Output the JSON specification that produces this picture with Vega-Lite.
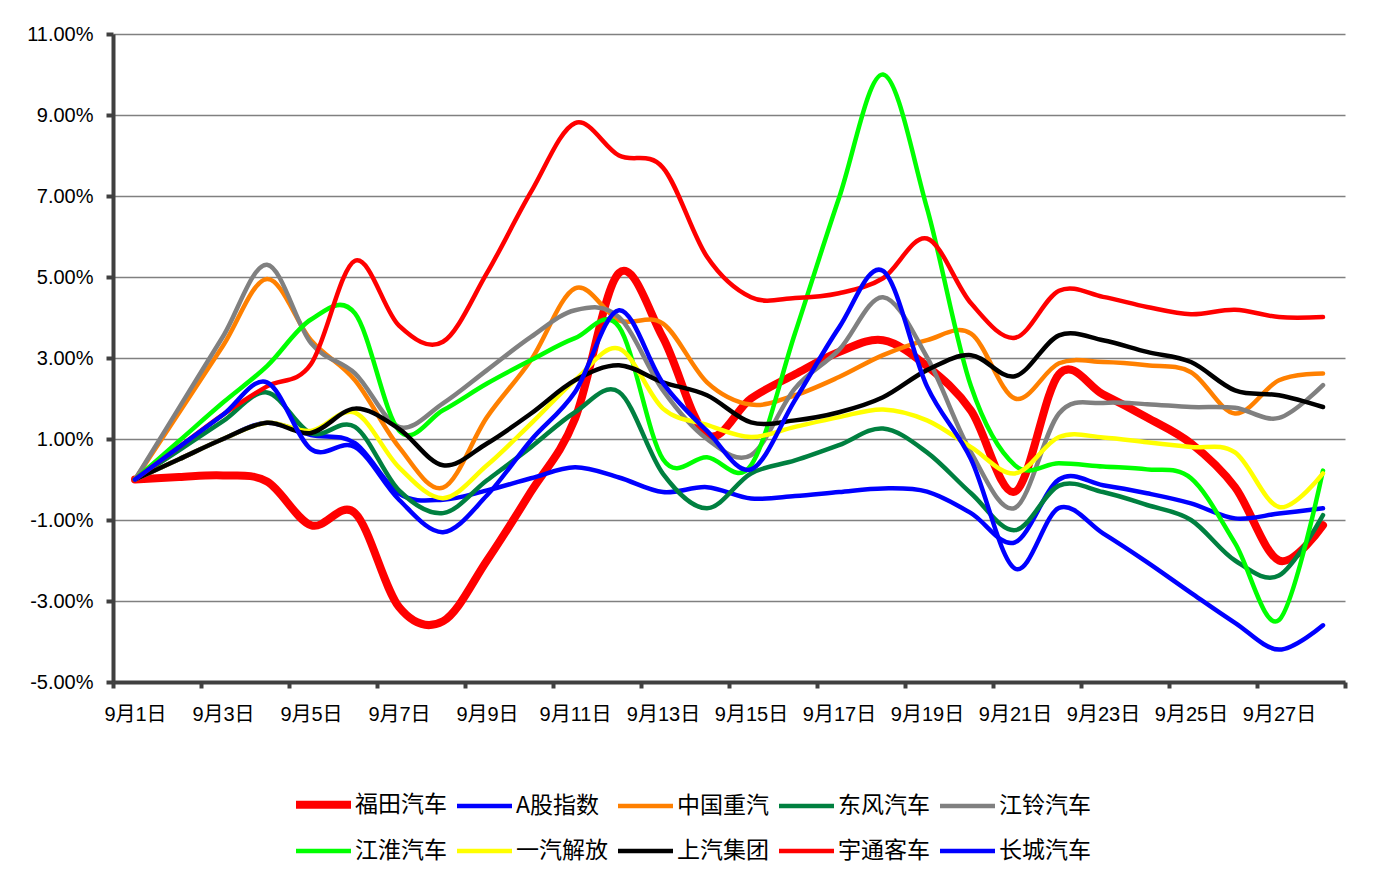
{
  "$schema": "https://vega.github.io/schema/vega-lite/v6.json",
  "width": 1232,
  "height": 648,
  "autosize": {"type": "none"},
  "padding": {"left": 113, "top": 34, "right": 35, "bottom": 197},
  "background": "white",
  "config": {
    "view": {"stroke": null},
    "legend": {
      "orient": "none", "legendX": 179, "legendY": 739, "direction": "horizontal",
      "columns": 5, "symbolType": "stroke", "symbolSize": 3025, "symbolStrokeWidth": 5,
      "labelFontSize": 23, "labelFont": "Noto Sans CJK SC", "labelColor": "#000000",
      "labelOffset": 0, "columnPadding": 1, "rowPadding": -15, "gridAlign": "all",
      "padding": 0, "title": null, "labelLimit": 200
    }
  },
  "data": {"values": [
{"d":"9月1日","s":"福田汽车","v":0},{"d":"9月2日","s":"福田汽车","v":0.06},{"d":"9月3日","s":"福田汽车","v":0.1},{"d":"9月4日","s":"福田汽车","v":-0.05},{"d":"9月5日","s":"福田汽车","v":-1.13},{"d":"9月6日","s":"福田汽车","v":-0.83},{"d":"9月7日","s":"福田汽车","v":-3.15},{"d":"9月8日","s":"福田汽车","v":-3.5},{"d":"9月9日","s":"福田汽车","v":-2.0},{"d":"9月10日","s":"福田汽车","v":-0.3},{"d":"9月11日","s":"福田汽车","v":1.5},{"d":"9月12日","s":"福田汽车","v":5.1},{"d":"9月13日","s":"福田汽车","v":3.5},{"d":"9月14日","s":"福田汽车","v":1.1},{"d":"9月15日","s":"福田汽车","v":2.0},{"d":"9月16日","s":"福田汽车","v":2.6},{"d":"9月17日","s":"福田汽车","v":3.15},{"d":"9月18日","s":"福田汽车","v":3.44},{"d":"9月19日","s":"福田汽车","v":2.8},{"d":"9月20日","s":"福田汽车","v":1.7},{"d":"9月21日","s":"福田汽车","v":-0.3},{"d":"9月22日","s":"福田汽车","v":2.6},{"d":"9月23日","s":"福田汽车","v":2.1},{"d":"9月24日","s":"福田汽车","v":1.53},{"d":"9月25日","s":"福田汽车","v":0.89},{"d":"9月26日","s":"福田汽车","v":-0.19},{"d":"9月27日","s":"福田汽车","v":-2.0},{"d":"9月28日","s":"福田汽车","v":-1.13},
{"d":"9月1日","s":"A股指数","v":0},{"d":"9月2日","s":"A股指数","v":0.5},{"d":"9月3日","s":"A股指数","v":1.0},{"d":"9月4日","s":"A股指数","v":1.4},{"d":"9月5日","s":"A股指数","v":1.1},{"d":"9月6日","s":"A股指数","v":0.9},{"d":"9月7日","s":"A股指数","v":-0.35},{"d":"9月8日","s":"A股指数","v":-0.5},{"d":"9月9日","s":"A股指数","v":-0.27},{"d":"9月10日","s":"A股指数","v":0.03},{"d":"9月11日","s":"A股指数","v":0.3},{"d":"9月12日","s":"A股指数","v":0.05},{"d":"9月13日","s":"A股指数","v":-0.31},{"d":"9月14日","s":"A股指数","v":-0.19},{"d":"9月15日","s":"A股指数","v":-0.47},{"d":"9月16日","s":"A股指数","v":-0.41},{"d":"9月17日","s":"A股指数","v":-0.31},{"d":"9月18日","s":"A股指数","v":-0.22},{"d":"9月19日","s":"A股指数","v":-0.3},{"d":"9月20日","s":"A股指数","v":-0.83},{"d":"9月21日","s":"A股指数","v":-1.55},{"d":"9月22日","s":"A股指数","v":0.0},{"d":"9月23日","s":"A股指数","v":-0.14},{"d":"9月24日","s":"A股指数","v":-0.34},{"d":"9月25日","s":"A股指数","v":-0.59},{"d":"9月26日","s":"A股指数","v":-0.96},{"d":"9月27日","s":"A股指数","v":-0.84},{"d":"9月28日","s":"A股指数","v":-0.71},
{"d":"9月1日","s":"中国重汽","v":0},{"d":"9月2日","s":"中国重汽","v":1.65},{"d":"9月3日","s":"中国重汽","v":3.3},{"d":"9月4日","s":"中国重汽","v":4.95},{"d":"9月5日","s":"中国重汽","v":3.44},{"d":"9月6日","s":"中国重汽","v":2.45},{"d":"9月7日","s":"中国重汽","v":0.8},{"d":"9月8日","s":"中国重汽","v":-0.2},{"d":"9月9日","s":"中国重汽","v":1.54},{"d":"9月10日","s":"中国重汽","v":2.95},{"d":"9月11日","s":"中国重汽","v":4.72},{"d":"9月12日","s":"中国重汽","v":3.93},{"d":"9月13日","s":"中国重汽","v":3.85},{"d":"9月14日","s":"中国重汽","v":2.4},{"d":"9月15日","s":"中国重汽","v":1.85},{"d":"9月16日","s":"中国重汽","v":2.08},{"d":"9月17日","s":"中国重汽","v":2.53},{"d":"9月18日","s":"中国重汽","v":3.07},{"d":"9月19日","s":"中国重汽","v":3.44},{"d":"9月20日","s":"中国重汽","v":3.6},{"d":"9月21日","s":"中国重汽","v":2.0},{"d":"9月22日","s":"中国重汽","v":2.87},{"d":"9月23日","s":"中国重汽","v":2.9},{"d":"9月24日","s":"中国重汽","v":2.82},{"d":"9月25日","s":"中国重汽","v":2.65},{"d":"9月26日","s":"中国重汽","v":1.63},{"d":"9月27日","s":"中国重汽","v":2.45},{"d":"9月28日","s":"中国重汽","v":2.62},
{"d":"9月1日","s":"东风汽车","v":0},{"d":"9月2日","s":"东风汽车","v":0.72},{"d":"9月3日","s":"东风汽车","v":1.44},{"d":"9月4日","s":"东风汽车","v":2.15},{"d":"9月5日","s":"东风汽车","v":1.14},{"d":"9月6日","s":"东风汽车","v":1.3},{"d":"9月7日","s":"东风汽车","v":-0.27},{"d":"9月8日","s":"东风汽车","v":-0.83},{"d":"9月9日","s":"东风汽车","v":-0.02},{"d":"9月10日","s":"东风汽车","v":0.8},{"d":"9月11日","s":"东风汽车","v":1.66},{"d":"9月12日","s":"东风汽车","v":2.16},{"d":"9月13日","s":"东风汽车","v":0.14},{"d":"9月14日","s":"东风汽车","v":-0.71},{"d":"9月15日","s":"东风汽车","v":0.15},{"d":"9月16日","s":"东风汽车","v":0.47},{"d":"9月17日","s":"东风汽车","v":0.85},{"d":"9月18日","s":"东风汽车","v":1.26},{"d":"9月19日","s":"东风汽车","v":0.67},{"d":"9月20日","s":"东风汽车","v":-0.34},{"d":"9月21日","s":"东风汽车","v":-1.25},{"d":"9月22日","s":"东风汽车","v":-0.15},{"d":"9月23日","s":"东风汽车","v":-0.31},{"d":"9月24日","s":"东风汽车","v":-0.63},{"d":"9月25日","s":"东风汽车","v":-1.0},{"d":"9月26日","s":"东风汽车","v":-2.0},{"d":"9月27日","s":"东风汽车","v":-2.37},{"d":"9月28日","s":"东风汽车","v":-0.88},
{"d":"9月1日","s":"江铃汽车","v":0},{"d":"9月2日","s":"江铃汽车","v":1.77},{"d":"9月3日","s":"江铃汽车","v":3.53},{"d":"9月4日","s":"江铃汽车","v":5.3},{"d":"9月5日","s":"江铃汽车","v":3.37},{"d":"9月6日","s":"江铃汽车","v":2.62},{"d":"9月7日","s":"江铃汽车","v":1.3},{"d":"9月8日","s":"江铃汽车","v":1.88},{"d":"9月9日","s":"江铃汽车","v":2.7},{"d":"9月10日","s":"江铃汽车","v":3.52},{"d":"9月11日","s":"江铃汽车","v":4.18},{"d":"9月12日","s":"江铃汽车","v":4.01},{"d":"9月13日","s":"江铃汽车","v":2.2},{"d":"9月14日","s":"江铃汽车","v":1.0},{"d":"9月15日","s":"江铃汽车","v":0.6},{"d":"9月16日","s":"江铃汽车","v":2.25},{"d":"9月17日","s":"江铃汽车","v":3.2},{"d":"9月18日","s":"江铃汽车","v":4.5},{"d":"9月19日","s":"江铃汽车","v":3.02},{"d":"9月20日","s":"江铃汽车","v":0.67},{"d":"9月21日","s":"江铃汽车","v":-0.7},{"d":"9月22日","s":"江铃汽车","v":1.63},{"d":"9月23日","s":"江铃汽车","v":1.89},{"d":"9月24日","s":"江铃汽车","v":1.86},{"d":"9月25日","s":"江铃汽车","v":1.79},{"d":"9月26日","s":"江铃汽车","v":1.77},{"d":"9月27日","s":"江铃汽车","v":1.52},{"d":"9月28日","s":"江铃汽车","v":2.33},
{"d":"9月1日","s":"江淮汽车","v":0},{"d":"9月2日","s":"江淮汽车","v":0.95},{"d":"9月3日","s":"江淮汽车","v":1.9},{"d":"9月4日","s":"江淮汽车","v":2.8},{"d":"9月5日","s":"江淮汽车","v":3.95},{"d":"9月6日","s":"江淮汽车","v":4.1},{"d":"9月7日","s":"江淮汽车","v":1.21},{"d":"9月8日","s":"江淮汽车","v":1.71},{"d":"9月9日","s":"江淮汽车","v":2.37},{"d":"9月10日","s":"江淮汽车","v":2.95},{"d":"9月11日","s":"江淮汽车","v":3.49},{"d":"9月12日","s":"江淮汽车","v":3.77},{"d":"9月13日","s":"江淮汽车","v":0.5},{"d":"9月14日","s":"江淮汽车","v":0.55},{"d":"9月15日","s":"江淮汽车","v":0.35},{"d":"9月16日","s":"江淮汽车","v":3.61},{"d":"9月17日","s":"江淮汽车","v":6.95},{"d":"9月18日","s":"江淮汽车","v":10.0},{"d":"9月19日","s":"江淮汽车","v":6.7},{"d":"9月20日","s":"江淮汽车","v":2.3},{"d":"9月21日","s":"江淮汽车","v":0.35},{"d":"9月22日","s":"江淮汽车","v":0.4},{"d":"9月23日","s":"江淮汽车","v":0.32},{"d":"9月24日","s":"江淮汽车","v":0.25},{"d":"9月25日","s":"江淮汽车","v":0.03},{"d":"9月26日","s":"江淮汽车","v":-1.57},{"d":"9月27日","s":"江淮汽车","v":-3.47},{"d":"9月28日","s":"江淮汽车","v":0.22},
{"d":"9月1日","s":"一汽解放","v":0},{"d":"9月2日","s":"一汽解放","v":0.5},{"d":"9月3日","s":"一汽解放","v":1.0},{"d":"9月4日","s":"一汽解放","v":1.4},{"d":"9月5日","s":"一汽解放","v":1.2},{"d":"9月6日","s":"一汽解放","v":1.65},{"d":"9月7日","s":"一汽解放","v":0.3},{"d":"9月8日","s":"一汽解放","v":-0.46},{"d":"9月9日","s":"一汽解放","v":0.35},{"d":"9月10日","s":"一汽解放","v":1.38},{"d":"9月11日","s":"一汽解放","v":2.45},{"d":"9月12日","s":"一汽解放","v":3.23},{"d":"9月13日","s":"一汽解放","v":1.75},{"d":"9月14日","s":"一汽解放","v":1.35},{"d":"9月15日","s":"一汽解放","v":1.05},{"d":"9月16日","s":"一汽解放","v":1.3},{"d":"9月17日","s":"一汽解放","v":1.54},{"d":"9月18日","s":"一汽解放","v":1.73},{"d":"9月19日","s":"一汽解放","v":1.46},{"d":"9月20日","s":"一汽解放","v":0.8},{"d":"9月21日","s":"一汽解放","v":0.15},{"d":"9月22日","s":"一汽解放","v":1.05},{"d":"9月23日","s":"一汽解放","v":1.04},{"d":"9月24日","s":"一汽解放","v":0.92},{"d":"9月25日","s":"一汽解放","v":0.8},{"d":"9月26日","s":"一汽解放","v":0.67},{"d":"9月27日","s":"一汽解放","v":-0.68},{"d":"9月28日","s":"一汽解放","v":0.15},
{"d":"9月1日","s":"上汽集团","v":0},{"d":"9月2日","s":"上汽集团","v":0.5},{"d":"9月3日","s":"上汽集团","v":1.0},{"d":"9月4日","s":"上汽集团","v":1.4},{"d":"9月5日","s":"上汽集团","v":1.15},{"d":"9月6日","s":"上汽集团","v":1.75},{"d":"9月7日","s":"上汽集团","v":1.25},{"d":"9月8日","s":"上汽集团","v":0.35},{"d":"9月9日","s":"上汽集团","v":0.89},{"d":"9月10日","s":"上汽集团","v":1.63},{"d":"9月11日","s":"上汽集团","v":2.45},{"d":"9月12日","s":"上汽集团","v":2.82},{"d":"9月13日","s":"上汽集团","v":2.4},{"d":"9月14日","s":"上汽集团","v":2.08},{"d":"9月15日","s":"上汽集团","v":1.41},{"d":"9月16日","s":"上汽集团","v":1.46},{"d":"9月17日","s":"上汽集团","v":1.66},{"d":"9月18日","s":"上汽集团","v":2.03},{"d":"9月19日","s":"上汽集团","v":2.7},{"d":"9月20日","s":"上汽集团","v":3.07},{"d":"9月21日","s":"上汽集团","v":2.55},{"d":"9月22日","s":"上汽集团","v":3.56},{"d":"9月23日","s":"上汽集团","v":3.44},{"d":"9月24日","s":"上汽集团","v":3.15},{"d":"9月25日","s":"上汽集团","v":2.9},{"d":"9月26日","s":"上汽集团","v":2.2},{"d":"9月27日","s":"上汽集团","v":2.08},{"d":"9月28日","s":"上汽集团","v":1.79},
{"d":"9月1日","s":"宇通客车","v":0},{"d":"9月2日","s":"宇通客车","v":0.8},{"d":"9月3日","s":"宇通客车","v":1.6},{"d":"9月4日","s":"宇通客车","v":2.3},{"d":"9月5日","s":"宇通客车","v":2.85},{"d":"9月6日","s":"宇通客车","v":5.4},{"d":"9月7日","s":"宇通客车","v":3.8},{"d":"9月8日","s":"宇通客车","v":3.4},{"d":"9月9日","s":"宇通客车","v":5.1},{"d":"9月10日","s":"宇通客车","v":7.1},{"d":"9月11日","s":"宇通客车","v":8.8},{"d":"9月12日","s":"宇通客车","v":8.0},{"d":"9月13日","s":"宇通客车","v":7.7},{"d":"9月14日","s":"宇通客车","v":5.5},{"d":"9月15日","s":"宇通客车","v":4.5},{"d":"9月16日","s":"宇通客车","v":4.48},{"d":"9月17日","s":"宇通客车","v":4.6},{"d":"9月18日","s":"宇通客车","v":4.97},{"d":"9月19日","s":"宇通客车","v":5.95},{"d":"9月20日","s":"宇通客车","v":4.35},{"d":"9月21日","s":"宇通客车","v":3.5},{"d":"9月22日","s":"宇通客车","v":4.66},{"d":"9月23日","s":"宇通客车","v":4.51},{"d":"9月24日","s":"宇通客车","v":4.26},{"d":"9月25日","s":"宇通客车","v":4.08},{"d":"9月26日","s":"宇通客车","v":4.19},{"d":"9月27日","s":"宇通客车","v":4.01},{"d":"9月28日","s":"宇通客车","v":4.01},
{"d":"9月1日","s":"长城汽车","v":0},{"d":"9月2日","s":"长城汽车","v":0.8},{"d":"9月3日","s":"长城汽车","v":1.6},{"d":"9月4日","s":"长城汽车","v":2.4},{"d":"9月5日","s":"长城汽车","v":0.75},{"d":"9月6日","s":"长城汽车","v":0.8},{"d":"9月7日","s":"长城汽车","v":-0.5},{"d":"9月8日","s":"长城汽车","v":-1.3},{"d":"9月9日","s":"长城汽车","v":-0.39},{"d":"9月10日","s":"长城汽车","v":0.97},{"d":"9月11日","s":"长城汽车","v":2.16},{"d":"9月12日","s":"长城汽车","v":4.18},{"d":"9月13日","s":"长城汽车","v":2.38},{"d":"9月14日","s":"长城汽车","v":1.2},{"d":"9月15日","s":"长城汽车","v":0.25},{"d":"9月16日","s":"长城汽车","v":1.96},{"d":"9月17日","s":"长城汽车","v":3.75},{"d":"9月18日","s":"长城汽车","v":5.15},{"d":"9月19日","s":"长城汽车","v":2.3},{"d":"9月20日","s":"长城汽车","v":0.5},{"d":"9月21日","s":"长城汽车","v":-2.2},{"d":"9月22日","s":"长城汽车","v":-0.7},{"d":"9月23日","s":"长城汽车","v":-1.33},{"d":"9月24日","s":"长城汽车","v":-2.04},{"d":"9月25日","s":"长城汽车","v":-2.8},{"d":"9月26日","s":"长城汽车","v":-3.54},{"d":"9月27日","s":"长城汽车","v":-4.2},{"d":"9月28日","s":"长城汽车","v":-3.6}
  ]},
  "resolve": {"axis": {"x": "independent"}},
  "layer": [
    {
      "mark": {"type": "line", "interpolate": "cardinal", "strokeCap": "round", "strokeJoin": "round"},
      "encoding": {
        "x": {
          "field": "d", "type": "ordinal",
          "scale": {"type": "point", "padding": 0.5, "domain": ["9月1日","9月2日","9月3日","9月4日","9月5日","9月6日","9月7日","9月8日","9月9日","9月10日","9月11日","9月12日","9月13日","9月14日","9月15日","9月16日","9月17日","9月18日","9月19日","9月20日","9月21日","9月22日","9月23日","9月24日","9月25日","9月26日","9月27日","9月28日"]},
          "axis": {
            "orient": "bottom", "title": null, "values": ["9月1日","9月3日","9月5日","9月7日","9月9日","9月11日","9月13日","9月15日","9月17日","9月19日","9月21日","9月23日","9月25日","9月27日"],
            "ticks": false, "tickSize": 0, "grid": false, "labelAngle": 0, "labelFontSize": 20,
            "labelFont": "Liberation Sans, Noto Sans CJK SC", "labelColor": "#000000", "labelPadding": 22,
            "domainColor": "#404040", "domainWidth": 4
          }
        },
        "y": {
          "field": "v", "type": "quantitative",
          "scale": {"domain": [-5, 11], "nice": false, "zero": false},
          "axis": {
            "title": null, "values": [-5, -3, -1, 1, 3, 5, 7, 9, 11],
            "labelExpr": "datum.value < 0 ? '-' + format(abs(datum.value), '.2f') + '%' : format(datum.value, '.2f') + '%'",
            "grid": true, "gridColor": "#808080", "gridWidth": 1.5,
            "domainColor": "#404040", "domainWidth": 4,
            "tickColor": "#404040", "tickWidth": 4, "tickSize": 7,
            "labelFontSize": 20, "labelFont": "Liberation Sans", "labelColor": "#000000", "labelPadding": 13
          }
        },
        "color": {
          "field": "s", "type": "nominal",
          "scale": {
            "domain": ["福田汽车","A股指数","中国重汽","东风汽车","江铃汽车","江淮汽车","一汽解放","上汽集团","宇通客车","长城汽车"],
            "range": ["#FF0000","#0000FF","#FF8000","#008040","#808080","#00FF00","#FFFF00","#000000","#FF0000","#0000FF"]
          }
        },
        "strokeWidth": {
          "field": "s", "type": "nominal",
          "scale": {
            "type": "ordinal",
            "domain": ["福田汽车","A股指数","中国重汽","东风汽车","江铃汽车","江淮汽车","一汽解放","上汽集团","宇通客车","长城汽车"],
            "range": [8, 4.5, 4.5, 4.5, 4.5, 4.5, 4.5, 4.5, 4.5, 4.5]
          }
        }
      }
    },
    {
      "mark": {"type": "point", "opacity": 0},
      "encoding": {
        "x": {
          "field": "d", "type": "ordinal",
          "axis": {
            "orient": "bottom", "title": null, "labels": false, "ticks": true, "tickOffset": -22,
            "values": ["9月1日","9月3日","9月5日","9月7日","9月9日","9月11日","9月13日","9月15日","9月17日","9月19日","9月21日","9月23日","9月25日","9月27日"],
            "domain": false, "grid": false, "tickSize": 6, "tickWidth": 4, "tickColor": "#404040"
          }
        },
        "y": {"field": "v", "type": "quantitative"}
      }
    },
    {
      "mark": {"type": "point", "opacity": 0},
      "encoding": {
        "x": {
          "field": "d", "type": "ordinal",
          "axis": {
            "orient": "bottom", "title": null, "labels": false, "ticks": true, "tickOffset": 22,
            "values": ["9月28日"],
            "domain": false, "grid": false, "tickSize": 6, "tickWidth": 4, "tickColor": "#404040"
          }
        },
        "y": {"field": "v", "type": "quantitative"}
      }
    }
  ]
}
